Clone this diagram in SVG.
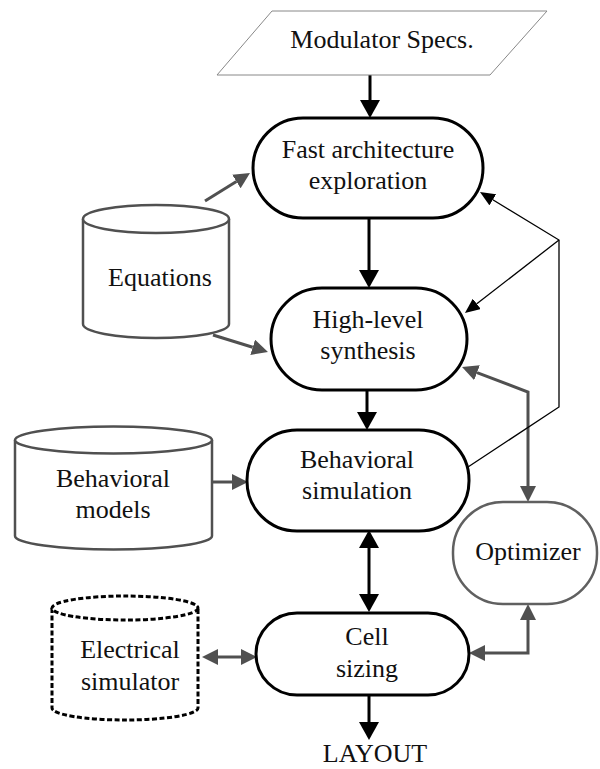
<svg xmlns="http://www.w3.org/2000/svg" width="600" height="769" viewBox="0 0 600 769">
  <style>
    text { font-family: 'Liberation Serif', 'Times New Roman', Times, 'DejaVu Serif', serif; font-size: 26px; fill: #111; text-anchor: middle; }
    .proc { fill: #fff; stroke: #000; stroke-width: 3; }
    .db { fill: #fff; stroke: #505050; stroke-width: 2.5; }
    .dbd { fill: #fff; stroke: #000; stroke-width: 3; stroke-dasharray: 5 2.5; }
    .opt { fill: #fff; stroke: #606060; stroke-width: 2.5; }
    .io { fill: #fff; stroke: #888; stroke-width: 1; }
    .cb { fill: none; stroke: #000; stroke-width: 3; }
    .cg { fill: none; stroke: #505050; stroke-width: 3; }
    .ct { fill: none; stroke: #000; stroke-width: 1.3; }
  </style>
  <defs>
    <marker id="ab" markerUnits="userSpaceOnUse" markerWidth="18" markerHeight="20" refX="0" refY="10" orient="auto-start-reverse">
      <path d="M0,0 L18,10 L0,20 Z" fill="#000"/>
    </marker>
    <marker id="ag" markerUnits="userSpaceOnUse" markerWidth="16" markerHeight="16" refX="0" refY="8" orient="auto-start-reverse">
      <path d="M0,0 L16,8 L0,16 Z" fill="#505050"/>
    </marker>
    <marker id="at" markerUnits="userSpaceOnUse" markerWidth="15" markerHeight="13" refX="0" refY="6.5" orient="auto">
      <path d="M0,0 L15,6.5 L0,13 Z" fill="#000"/>
    </marker>
  </defs>

  <!-- connectors -->
  <g id="connectors">
    <path class="cb" d="M370,75 V100" marker-end="url(#ab)"/>
    <path class="cb" d="M369,218 V270" marker-end="url(#ab)"/>
    <path class="cb" d="M367,390 V412" marker-end="url(#ab)"/>
    <path class="cb" d="M369,548 V594" marker-start="url(#ab)" marker-end="url(#ab)"/>
    <path class="cb" d="M369,695 V722" marker-end="url(#ab)"/>

    <path class="cg" d="M205,201 L236.4,181.5" marker-end="url(#ag)"/>
    <path class="cg" d="M213,335 L252.7,347.3" marker-end="url(#ag)"/>
    <path class="cg" d="M212,482 H232" marker-end="url(#ag)"/>
    <path class="cg" d="M218,657 H241" marker-start="url(#ag)" marker-end="url(#ag)"/>
    <path class="cg" d="M485,653 H528 V620" marker-start="url(#ag)" marker-end="url(#ag)"/>
    <path class="cg" d="M477,372.7 L528,392 V486" marker-start="url(#ag)" marker-end="url(#ag)"/>

    <path class="ct" d="M468,467 L559,407 V240 L492.8,199.8" marker-end="url(#at)"/>
    <path class="ct" d="M559,240 L476.8,303.8" marker-end="url(#at)"/>
  </g>

  <g id="specs">
    <polygon class="io" points="272,11 547,11 490,75 217,75"/>
    <text x="382" y="48">Modulator Specs.</text>
  </g>

  <g id="fast-arch">
    <rect class="proc" x="253" y="118" width="230" height="100" rx="50"/>
    <text x="368" y="158">Fast architecture</text>
    <text x="368" y="189">exploration</text>
  </g>

  <g id="equations">
    <path class="db" d="M83,219 V324 A73,14 0 0 0 229,324 V219"/>
    <ellipse class="db" cx="156" cy="219" rx="73" ry="14"/>
    <text x="160" y="286">Equations</text>
  </g>

  <g id="high-level">
    <rect class="proc" x="271" y="288" width="196" height="102" rx="51"/>
    <text x="368" y="328">High-level</text>
    <text x="368" y="359">synthesis</text>
  </g>

  <g id="behavioral-models">
    <path class="db" d="M15,440 V536 A98.5,13.5 0 0 0 212,536 V440"/>
    <ellipse class="db" cx="113.5" cy="440" rx="98.5" ry="13.5"/>
    <text x="113" y="487">Behavioral</text>
    <text x="113" y="518">models</text>
  </g>

  <g id="behavioral-sim">
    <rect class="proc" x="247" y="430" width="222" height="101" rx="50"/>
    <text x="357" y="468">Behavioral</text>
    <text x="357" y="499">simulation</text>
  </g>

  <g id="optimizer">
    <rect class="opt" x="453" y="502" width="144" height="102" rx="50"/>
    <text x="528" y="560">Optimizer</text>
  </g>

  <g id="electrical-sim">
    <path class="dbd" d="M52,608 V708 A73,12 0 0 0 198,708 V608"/>
    <ellipse class="dbd" cx="125" cy="608" rx="73" ry="12"/>
    <text x="130" y="658">Electrical</text>
    <text x="130" y="690">simulator</text>
  </g>

  <g id="cell-sizing">
    <rect class="proc" x="256" y="613" width="213" height="82" rx="41"/>
    <text x="367" y="645">Cell</text>
    <text x="367" y="677">sizing</text>
  </g>

  <g id="layout">
    <text x="375" y="762">LAYOUT</text>
  </g>
</svg>
